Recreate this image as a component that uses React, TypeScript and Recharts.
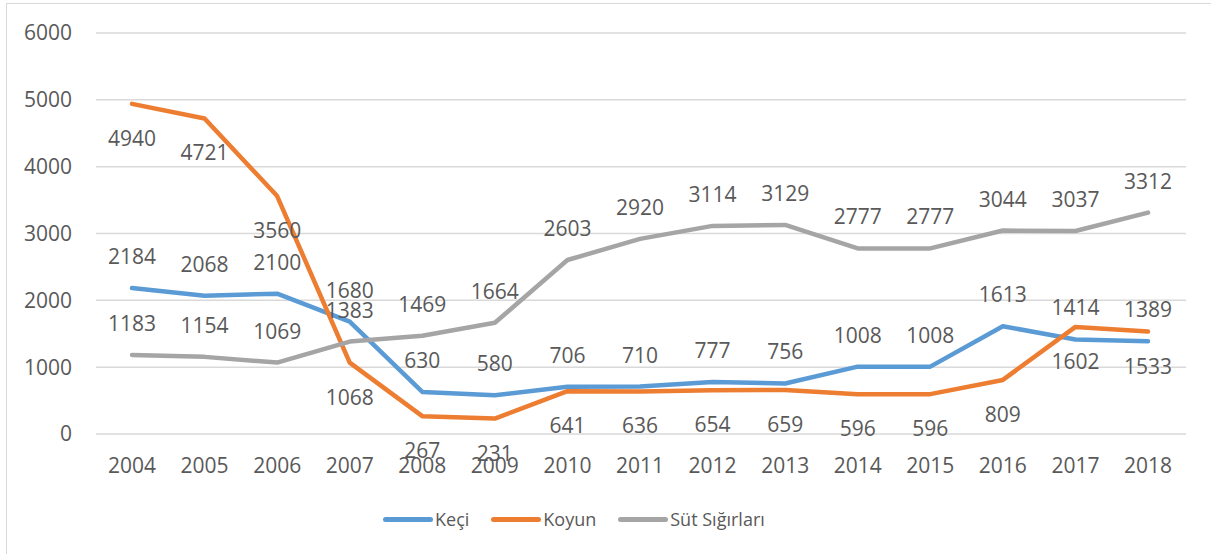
import React from 'react';
import { LineChart, Line, XAxis, YAxis, CartesianGrid, LabelList } from 'recharts';

const years = ['2004','2005','2006','2007','2008','2009','2010','2011','2012','2013','2014','2015','2016','2017','2018'];
const keci = [2184, 2068, 2100, 1680, 630, 580, 706, 710, 777, 756, 1008, 1008, 1613, 1414, 1389];
const koyun = [4940, 4721, 3560, 1068, 267, 231, 641, 636, 654, 659, 596, 596, 809, 1602, 1533];
const sut = [1183, 1154, 1069, 1383, 1469, 1664, 2603, 2920, 3114, 3129, 2777, 2777, 3044, 3037, 3312];
const yTicks = [0, 1000, 2000, 3000, 4000, 5000, 6000];

const series = [
  { key: 'keci', name: 'Keçi', color: '#5B9BD5', pos: 'above' },
  { key: 'koyun', name: 'Koyun', color: '#ED7D31', pos: 'below' },
  { key: 'sut', name: 'Süt Sığırları', color: '#A5A5A5', pos: 'above' },
];

const data = years.map((y, i) => ({ year: y, keci: keci[i], koyun: koyun[i], sut: sut[i] }));

const FONT = '"Open Sans", sans-serif';
const TXT = '#595959';

const makeLabel = (pos: string) => (props: any) => {
  const { x, y, value } = props;
  const dy = pos === 'above' ? -32 : 34;
  return (
    <text x={x} y={y + dy} textAnchor="middle" dominantBaseline="central" fill={TXT} fontSize={21} fontFamily={FONT}>
      {value}
    </text>
  );
};

export default function App() {
  return (
    <div style={{ position: 'absolute', left: 0, top: 0, width: 1211, height: 554, overflow: 'hidden', background: '#fff' }}>
      <div style={{ position: 'absolute', left: 6, top: 3, width: 1400, height: 800, border: '1.5px solid #D9D9D9' }} />
      <div style={{ position: 'absolute', left: 0, top: 0 }}>
        <LineChart width={1211} height={554} data={data} margin={{ top: 33, right: 25, left: 0, bottom: 0 }}>
          <CartesianGrid vertical={false} stroke="#D9D9D9" strokeWidth={1.5} />
          <XAxis
            dataKey="year"
            axisLine={false}
            tickLine={false}
            height={120}
            tickSize={0}
            padding={{ left: 36, right: 38 }}
            tick={{ fill: TXT, fontSize: 21, fontFamily: FONT, dy: 22 }}
            interval={0}
          />
          <YAxis
            domain={[0, 6000]}
            ticks={yTicks}
            axisLine={false}
            tickLine={false}
            width={96}
            tickSize={0}
            tickMargin={24}
            tick={{ fill: TXT, fontSize: 21, fontFamily: FONT }}
            interval={0}
          />
          {series.map((s) => (
            <Line
              key={s.key}
              dataKey={s.key}
              name={s.name}
              stroke={s.color}
              strokeWidth={4.5}
              strokeLinejoin="round"
              strokeLinecap="round"
              dot={false}
              activeDot={false}
              isAnimationActive={false}
            >
              <LabelList dataKey={s.key} content={makeLabel(s.pos)} />
            </Line>
          ))}
        </LineChart>
      </div>
      <div style={{ position: 'absolute', top: 507, left: 383, display: 'flex', alignItems: 'center', fontFamily: FONT, fontSize: 18, color: TXT }}>
        {series.map((s) => (
          <div key={s.key} style={{ display: 'flex', alignItems: 'center', marginRight: 22 }}>
            <div style={{ width: 50, height: 5, borderRadius: 3, background: s.color, marginRight: 2 }} />
            <span style={{ lineHeight: '24px' }}>{s.name}</span>
          </div>
        ))}
      </div>
    </div>
  );
}
